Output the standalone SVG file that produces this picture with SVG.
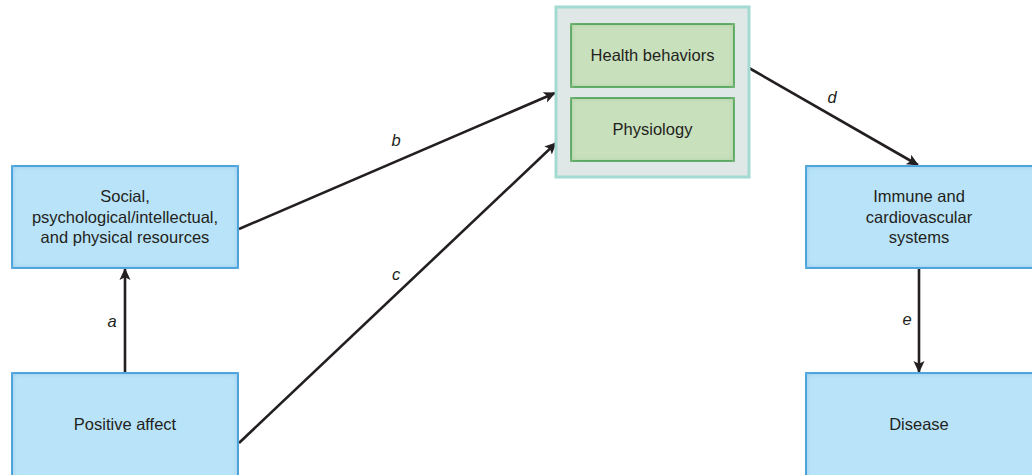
<svg xmlns="http://www.w3.org/2000/svg" width="1032" height="475" viewBox="0 0 1032 475">
<style>
.box{fill:#b9e3f8;stroke:#3497d6;stroke-width:2}
.grp{fill:#dfe8e6;stroke:#a3dad2;stroke-width:3}
.inner{fill:#c9e0bd;stroke:#2f9a4a;stroke-width:2}
.t{font-family:"Liberation Sans",Arial,sans-serif;font-size:16.5px;fill:#231f20;text-anchor:middle}
.lbl{font-family:"Liberation Sans",Arial,sans-serif;font-size:16.5px;font-style:italic;fill:#231f20;text-anchor:middle}
.con{stroke:#231f20;stroke-width:2.6;fill:none;marker-end:url(#ah)}
</style>
<defs>
<marker id="ah" markerWidth="14" markerHeight="14" refX="11" refY="7" orient="auto" markerUnits="userSpaceOnUse">
<path d="M0,1.5 L12,7 L0,12.5 L2.8,7 Z" fill="#231f20"/>
</marker>
<filter id="innerBlue" x="-10%" y="-10%" width="120%" height="120%">
<feFlood flood-color="#6cb6e4"/>
<feComposite in2="SourceAlpha" operator="out"/>
<feGaussianBlur stdDeviation="3"/>
<feComposite in2="SourceAlpha" operator="in"/>
<feMerge><feMergeNode in="SourceGraphic"/><feMergeNode/></feMerge>
</filter>
<filter id="innerGreen" x="-10%" y="-10%" width="120%" height="120%">
<feFlood flood-color="#8fc58a"/>
<feComposite in2="SourceAlpha" operator="out"/>
<feGaussianBlur stdDeviation="3"/>
<feComposite in2="SourceAlpha" operator="in"/>
<feMerge><feMergeNode in="SourceGraphic"/><feMergeNode/></feMerge>
</filter>
</defs>
<rect width="1032" height="475" fill="#ffffff"/>
<g id="connectors">
<line class="con" x1="125" y1="373" x2="125" y2="269"/>
<line class="con" x1="239" y1="229" x2="555" y2="93"/>
<line class="con" x1="239" y1="443" x2="556" y2="143"/>
<line class="con" x1="749" y1="68" x2="918" y2="165"/>
<line class="con" x1="919" y1="268" x2="919" y2="372"/>
<text class="lbl" x="112" y="327">a</text>
<text class="lbl" x="396" y="146">b</text>
<text class="lbl" x="396" y="280">c</text>
<text class="lbl" x="832" y="103">d</text>
<text class="lbl" x="907" y="325">e</text>
</g>
<g id="resources">
<rect class="box" x="12" y="166" width="226" height="102" filter="url(#innerBlue)"/>
<text class="t" x="125" y="202">Social,</text>
<text class="t" x="125" y="222.5">psychological/intellectual,</text>
<text class="t" x="125" y="243">and physical resources</text>
</g>
<g id="positive-affect">
<rect class="box" x="12" y="373" width="226" height="110" filter="url(#innerBlue)"/>
<text class="t" x="125" y="430">Positive affect</text>
</g>
<g id="mediators">
<rect class="grp" x="556" y="7" width="193" height="170"/>
</g>
<g id="health-behaviors">
<rect class="inner" x="571" y="24" width="163" height="63" filter="url(#innerGreen)"/>
<text class="t" x="652.5" y="61">Health behaviors</text>
</g>
<g id="physiology">
<rect class="inner" x="571" y="98" width="163" height="63" filter="url(#innerGreen)"/>
<text class="t" x="652.5" y="135">Physiology</text>
</g>
<g id="immune">
<rect class="box" x="806" y="166" width="236" height="102" filter="url(#innerBlue)"/>
<text class="t" x="919" y="202">Immune and</text>
<text class="t" x="919" y="222.5">cardiovascular</text>
<text class="t" x="919" y="243">systems</text>
</g>
<g id="disease">
<rect class="box" x="806" y="373" width="236" height="110" filter="url(#innerBlue)"/>
<text class="t" x="919" y="430">Disease</text>
</g>
</svg>
